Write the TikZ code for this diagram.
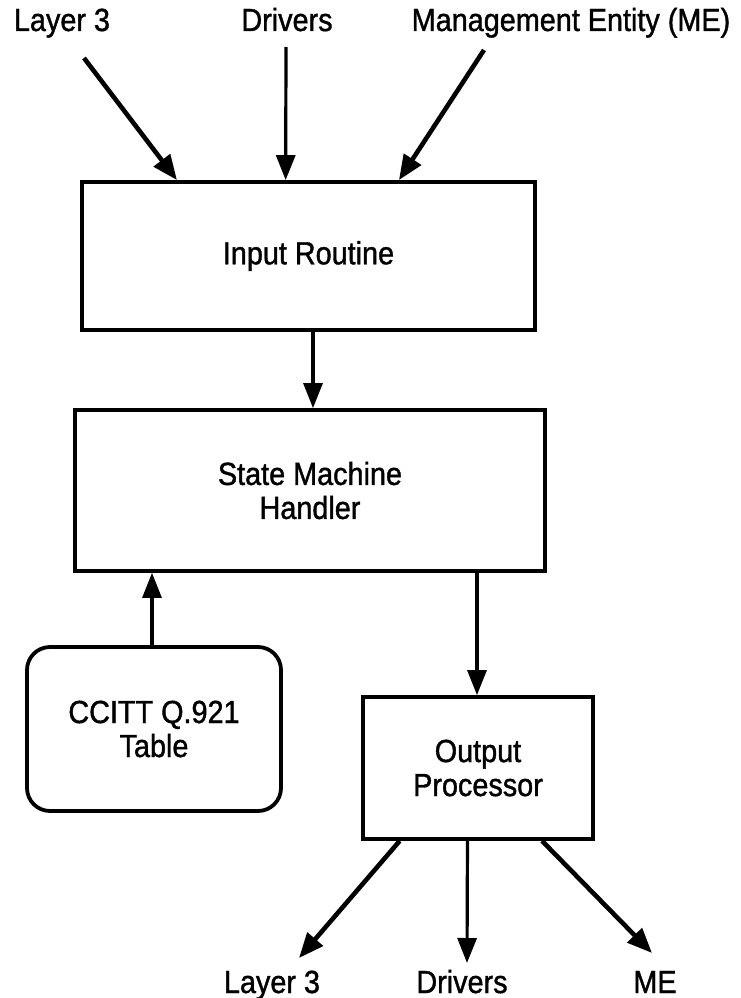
\documentclass[tikz,border=0pt]{standalone}
\usepackage{fontspec}
\setmainfont[FakeStretch=0.9,FakeBold=1.2]{Liberation Sans}
\usetikzlibrary{arrows.meta,calc}

\begin{document}
\begin{tikzpicture}[x=1pt,y=-1pt,
  txt/.style={font=\fontsize{32}{34}\selectfont},
  lbl/.style={txt, inner sep=0pt, anchor=base},
  blk/.style={txt, draw, line width=3.8pt, inner sep=0pt, align=center},
  arr/.style={line width=3.2pt, -{Triangle[length=25pt,width=19pt]}},
  heavyarr/.style={line width=4.6pt, -{Triangle[length=25pt,width=20pt]}}]

\useasboundingbox (0,0) rectangle (740,998);

% incoming sources
\node[lbl] (l3in) at (62,31) {Layer 3};
\node[lbl] (drvin) at (287,31) {Drivers};
\node[lbl] (mein) at (571,31) {Management Entity (ME)};

% processing blocks
\node[blk, minimum width=453, minimum height=148] (inp) at (308.5,256) {Input Routine};
\node[blk, minimum width=470, minimum height=161] (sm) at (310,490.5) {State Machine\\Handler};
\node[blk, rounded corners=23pt, minimum width=254, minimum height=164] (tab) at (154,729) {CCITT Q.921\\Table};
\node[blk, minimum width=230, minimum height=142] (op) at (478,768) {Output\\Processor};

% outgoing destinations
\node[lbl] (l3out) at (272,993) {Layer 3};
\node[lbl] (drvout) at (462,993) {Drivers};
\node[lbl] (meout) at (655,993) {ME};

% free ends of the slanted arrows
\coordinate (s1) at (84,58);
\coordinate (s2) at (286,47);
\coordinate (s3) at (484,50);
\coordinate (t1) at (299,958);
\coordinate (t2) at (467,963);
\coordinate (t3) at (652,953);

% arrows into the input routine
\draw[heavyarr] (s1) -- ($(inp.north west)!0.212!(inp.north east)$);
\draw[arr] (s2) -- ($(inp.north west)!0.450!(inp.north east)$);
\draw[heavyarr] (s3) -- ($(inp.north west)!0.698!(inp.north east)$);

% internal flow
\draw[arr] ([xshift=4.5pt]inp.south) -- ([xshift=4.5pt]inp.south |- sm.north);
\draw[arr] ([xshift=-2pt]tab.north) -- ([xshift=-2pt]tab.north |- sm.south);
\draw[arr] ([xshift=-1pt]op.north |- sm.south) -- ([xshift=-1pt]op.north);

% arrows out of the output processor
\draw[heavyarr] ($(op.south west)!0.165!(op.south east)$) -- (t1);
\draw[arr] ($(op.south west)!0.455!(op.south east)$) -- (t2);
\draw[heavyarr] ($(op.south west)!0.774!(op.south east)$) -- (t3);

\end{tikzpicture}
\end{document}
